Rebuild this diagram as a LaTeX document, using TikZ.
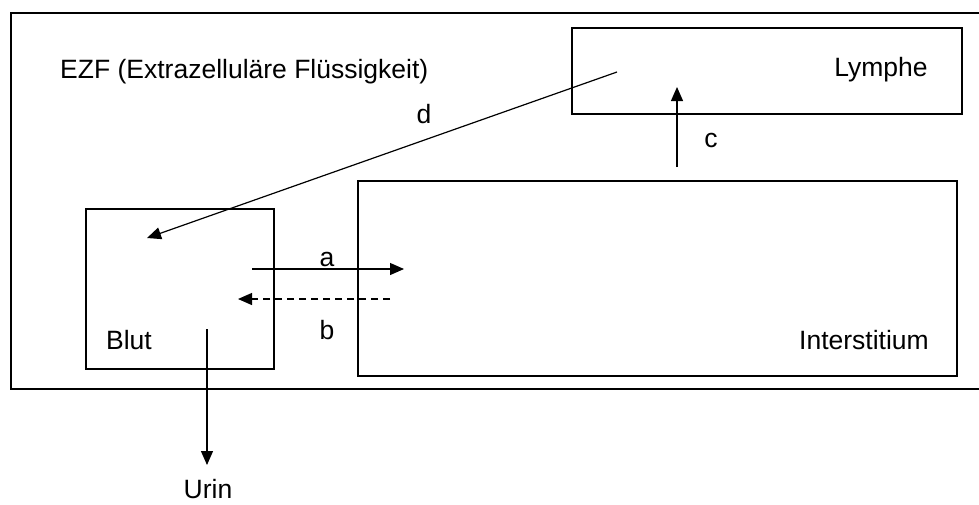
\documentclass[tikz,border=0pt]{standalone}
\usepackage{fontspec}
\setmainfont{Liberation Sans}
\usetikzlibrary{arrows.meta}
\begin{document}
\begin{tikzpicture}[x=1pt,y=-1pt,
  box/.style={draw,line width=1.6pt,inner sep=0pt,anchor=north west},
  lbl/.style={inner sep=0pt,font=\fontsize{26.5}{31}\selectfont},
  conn/.style={line width=1.2pt,-{Triangle[length=14pt,width=12pt]}}]
\useasboundingbox (0,0) rectangle (979,504);
\clip (0,0) rectangle (979,504);
\fill[white] (0,0) rectangle (979,504);
% outer EZF box
\node[box,minimum width=990pt,minimum height=376pt] (ezf) at (10,12) {};
\node[box,minimum width=390pt,minimum height=86pt] (lymph) at (571,27) {};
\node[box,minimum width=599pt,minimum height=195pt] (inter) at (357,180) {};
\node[box,minimum width=188pt,minimum height=160pt] (blut) at (85,208) {};
% texts
\node[lbl,anchor=west] (tezf) at (60,72) {EZF (Extrazelluläre Flüssigkeit)};
\node[lbl] (tlymph) at (881,70) {Lymphe};
\node[lbl] (tinter) at (864,340) {Interstitium};
\node[lbl] (tblut) at (129,340) {Blut};
\node[lbl] (turin) at (208,489) {Urin};
\node[lbl] (la) at (327,259) {a};
\node[lbl] (lb) at (327,330) {b};
\node[lbl] (lc) at (711,140) {c};
\node[lbl] (ld) at (424,114) {d};
% connector end points
\coordinate (a1) at (252,269);
\coordinate (a2) at (404,269);
\coordinate (b1) at (390,299);
\coordinate (b2) at (238,299);
\coordinate (c1) at (677,167);
\coordinate (c2) at (677,87);
\coordinate (d1) at (617,72);
\coordinate (d2) at (147,238);
\coordinate (u1) at (207,329);
\coordinate (u2) at (207,465);
% connectors
\draw[conn] (a1) -- (a2);
\draw[conn,dash pattern=on 7pt off 5pt] (b1) -- (b2);
\draw[conn] (c1) -- (c2);
\draw[conn] (d1) -- (d2);
\draw[conn] (u1) -- (u2);
\end{tikzpicture}
\end{document}
